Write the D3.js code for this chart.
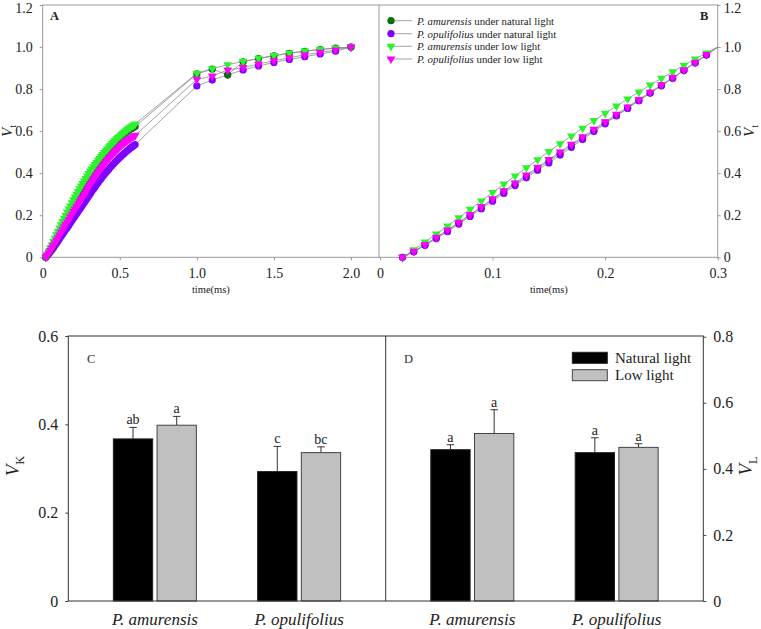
<!DOCTYPE html>
<html><head><meta charset="utf-8">
<script src="https://cdn.jsdelivr.net/npm/d3@7"></script>
<style>body{margin:0;background:#fff}svg{display:block}</style>
</head><body>
<script>
// ---------------- DATA ----------------
const timesA = [0.02,0.03,0.04,0.05,0.06,0.07,0.08,0.09,0.10,0.11,0.12,0.13,0.14,0.15,0.16,0.17,0.18,0.19,0.20,0.21,0.22,0.23,0.24,0.25,0.26,0.27,0.28,0.29,0.30,
  0.31,0.32,0.33,0.34,0.35,0.36,0.37,0.38,0.39,0.40,0.41,0.42,0.43,0.44,0.45,0.46,0.47,0.48,0.49,0.50,0.51,0.52,0.53,0.54,0.55,0.56,0.57,0.58,0.59,0.60,
  1.0,1.1,1.2,1.3,1.4,1.5,1.6,1.7,1.8,1.9,2.0];
const amurNaturalA = [0,0.010,0.022,0.034,0.047,0.060,0.073,0.087,0.101,0.114,0.128,0.141,0.155,0.168,0.182,0.195,0.208,0.221,0.235,0.248,0.261,0.274,0.287,0.299,0.313,0.326,0.339,0.353,0.367,
  0.380,0.393,0.406,0.418,0.430,0.442,0.453,0.464,0.475,0.485,0.495,0.505,0.514,0.523,0.532,0.540,0.548,0.556,0.563,0.570,0.577,0.583,0.589,0.595,0.600,0.605,0.610,0.614,0.618,0.622,
  0.872,0.895,0.868,0.930,0.945,0.958,0.970,0.980,0.988,0.995,1.0];
const opulNaturalA = [0,0.008,0.017,0.026,0.036,0.046,0.057,0.067,0.078,0.089,0.100,0.111,0.121,0.132,0.142,0.153,0.164,0.175,0.186,0.197,0.207,0.218,0.229,0.239,0.250,0.261,0.271,0.282,0.293,
  0.304,0.315,0.325,0.336,0.346,0.356,0.366,0.375,0.385,0.394,0.403,0.412,0.420,0.429,0.437,0.445,0.453,0.460,0.468,0.475,0.482,0.489,0.495,0.502,0.508,0.514,0.520,0.525,0.531,0.536,
  0.815,0.843,0.868,0.891,0.910,0.927,0.941,0.954,0.967,0.980,1.0];
const amurLowA = [0,0.014,0.029,0.044,0.059,0.075,0.091,0.107,0.123,0.139,0.154,0.170,0.185,0.200,0.215,0.230,0.244,0.259,0.273,0.286,0.300,0.313,0.326,0.339,0.351,0.363,0.375,0.387,0.398,
  0.409,0.420,0.430,0.441,0.451,0.461,0.470,0.480,0.489,0.498,0.507,0.515,0.524,0.532,0.540,0.548,0.555,0.563,0.570,0.577,0.583,0.590,0.596,0.602,0.608,0.614,0.619,0.624,0.629,0.634,
  0.875,0.897,0.916,0.932,0.946,0.960,0.971,0.981,0.989,0.995,1.0];
const opulLowA = [0,0.009,0.020,0.032,0.044,0.056,0.068,0.081,0.093,0.106,0.119,0.131,0.144,0.156,0.168,0.180,0.193,0.205,0.217,0.228,0.240,0.252,0.264,0.276,0.287,0.299,0.311,0.324,0.336,
  0.348,0.360,0.371,0.382,0.393,0.404,0.414,0.424,0.434,0.444,0.453,0.462,0.471,0.479,0.488,0.496,0.503,0.511,0.518,0.525,0.532,0.538,0.544,0.550,0.556,0.561,0.566,0.571,0.575,0.580,
  0.846,0.862,0.891,0.902,0.919,0.935,0.949,0.963,0.975,0.986,1.0];

const timesB = [0.02,0.03,0.04,0.05,0.06,0.07,0.08,0.09,0.10,0.11,0.12,0.13,0.14,0.15,0.16,0.17,0.18,0.19,0.20,0.21,0.22,0.23,0.24,0.25,0.26,0.27,0.28,0.29,0.30];
const amurNaturalB = [0,0.027,0.059,0.093,0.128,0.164,0.200,0.237,0.274,0.311,0.348,0.385,0.422,0.458,0.495,0.531,0.567,0.603,0.639,0.675,0.710,0.746,0.781,0.816,0.852,0.888,0.925,0.962,1.0];
const opulNaturalB = [0,0.026,0.057,0.089,0.122,0.158,0.194,0.230,0.267,0.304,0.341,0.378,0.414,0.449,0.486,0.523,0.560,0.598,0.635,0.672,0.708,0.745,0.781,0.817,0.853,0.890,0.926,0.962,1.0];
const amurLowB = [0,0.036,0.073,0.111,0.149,0.188,0.228,0.268,0.308,0.348,0.387,0.426,0.464,0.503,0.540,0.577,0.614,0.650,0.685,0.719,0.753,0.786,0.819,0.851,0.882,0.913,0.943,0.972,1.0];
const opulLowB = [0,0.028,0.061,0.095,0.130,0.166,0.203,0.240,0.278,0.316,0.353,0.391,0.428,0.465,0.501,0.537,0.573,0.609,0.645,0.680,0.715,0.750,0.785,0.820,0.855,0.890,0.927,0.964,1.0];

const seriesNames = ["P. amurensis|under natural light","P. opulifolius|under natural light","P. amurensis|under low light","P. opulifolius|under low light"];

const species = ["P. amurensis","P. opulifolius"];
const treatments = ["Natural light","Low light"];
const vkNatural = [0.367,0.293], vkNaturalErr = [0.026,0.057];
const vkLow = [0.398,0.336], vkLowErr = [0.020,0.013];
const vkLetters = [["ab","a"],["c","bc"]];
const vlNatural = [0.458,0.449], vlNaturalErr = [0.015,0.045];
const vlLow = [0.507,0.465], vlLowErr = [0.072,0.011];
const vlLetters = [["a","a"],["a","a"]];

const ticksTopY = [0,0.2,0.4,0.6,0.8,1.0,1.2];
const ticksAX = [0,0.5,1.0,1.5,2.0];
const ticksBX = [0,0.1,0.2,0.3];
const ticksC = [0,0.2,0.4,0.6];
const ticksD = [0,0.2,0.4,0.6,0.8];

// ---------------- STYLE ----------------
const FONT = '"Liberation Serif","Times New Roman",serif';
const cDark = "#0a6e0a", cPurple = "#8000ff", cGreen = "#2ef22e", cMag = "#ff00ff";
const gray = "#9a9a9a";
const W = 761, H = 629;
const svg = d3.select("body").append("svg").attr("width", W).attr("height", H).style("font-family", FONT);
svg.append("rect").attr("width", W).attr("height", H).attr("fill", "#fff");

const fmt = d => d === 0 ? "0" : d3.format(".1f")(d);
function styleAx(g, color, size, topDy) {
  g.select(".domain").remove();
  g.attr("font-family", null).attr("font-size", null);
  g.selectAll(".tick line").attr("stroke", color);
  const t = g.selectAll(".tick text").attr("fill", "#222").style("font-size", size + "px").style("font-family", FONT);
  if (topDy) t.filter(d => d === 1.2).attr("dy", topDy);
}

// ---------------- TOP PANELS ----------------
const tTop = 5, tBot = 257.3, aL = 42.7, mid = 379, bR = 717.7;
const xA = d3.scaleLinear().domain([0, 2]).range([aL, 351]);
const xB = d3.scaleLinear().domain([0, 0.3]).range([380, bR]);
const yT = d3.scaleLinear().domain([0, 1.2]).range([tBot, tTop]);

// axes
svg.append("g").attr("transform", `translate(${aL},0)`).call(d3.axisLeft(yT).tickValues(ticksTopY).tickFormat(fmt).tickSize(3).tickPadding(7)).call(g => styleAx(g, gray, 14, "0.55em"));
svg.append("g").attr("transform", `translate(${bR},0)`).call(d3.axisRight(yT).tickValues(ticksTopY).tickFormat(fmt).tickSize(3).tickPadding(3)).call(g => styleAx(g, gray, 14, "0.55em"));
svg.append("g").attr("transform", `translate(0,${tBot})`).call(d3.axisBottom(xA).tickValues(ticksAX).tickFormat(fmt).tickSize(3).tickPadding(8)).call(g => styleAx(g, gray, 14));
svg.append("g").attr("transform", `translate(0,${tBot})`).call(d3.axisBottom(xB).tickValues(ticksBX).tickFormat(fmt).tickSize(3).tickPadding(8)).call(g => styleAx(g, gray, 14));
// frame
const fr = svg.append("g").attr("stroke", gray).attr("stroke-width", 1).attr("fill", "none");
fr.append("rect").attr("x", aL).attr("y", tTop).attr("width", bR - aL).attr("height", tBot - tTop);
fr.append("line").attr("x1", mid).attr("x2", mid).attr("y1", tTop).attr("y2", tBot);

// series
const colorsByName = [cDark, cPurple, cGreen, cMag];
const shapes = ["circle", "circle", "tri", "tri"];
const seriesA = [amurNaturalA, opulNaturalA, amurLowA, opulLowA];
const seriesB = [amurNaturalB, opulNaturalB, amurLowB, opulLowB];

function drawSeries(times, series, xs, order, maxT) {
  const line = d3.line().x(d => xs(d[0])).y(d => yT(d[1]));
  series.forEach((vals, i) => {
    const pts = times.map((t, j) => [t, vals[j]]).filter(p => p[1] !== undefined);
    svg.append("path").attr("d", line(pts)).attr("fill", "none").attr("stroke", "#8c8c8c").attr("stroke-width", 0.8);
  });
  order.forEach(i => {
    const vals = series[i];
    const pts = times.map((t, j) => [t, vals[j]]).filter(p => p[1] !== undefined && p[0] <= maxT);
    const g = svg.append("g");
    if (shapes[i] === "circle") {
      g.selectAll("circle").data(pts).join("circle")
        .attr("cx", d => xs(d[0])).attr("cy", d => yT(d[1])).attr("r", 3.6).attr("fill", colorsByName[i]);
    } else {
      g.selectAll("path").data(pts).join("path")
        .attr("d", d3.symbol(d3.symbolTriangle, 34))
        .attr("transform", d => `translate(${xs(d[0])},${yT(d[1])}) rotate(180)`).attr("fill", colorsByName[i]);
    }
  });
}
drawSeries(timesA, seriesA, xA, [1, 0, 2, 3], 3);
drawSeries(timesB, seriesB, xB, [0, 1, 2, 3], 0.295);

// labels
svg.append("text").attr("x", 50).attr("y", 20).attr("font-size", 12.5).attr("font-weight", "bold").attr("fill", "#222").text("A");
svg.append("text").attr("x", 700).attr("y", 20).attr("font-size", 12.5).attr("font-weight", "bold").attr("fill", "#222").text("B");
svg.append("text").attr("x", (aL + mid) / 2).attr("y", 293).attr("text-anchor", "middle").attr("font-size", 10.5).attr("fill", "#222").text("time(ms)");
svg.append("text").attr("x", (380 + bR) / 2).attr("y", 293).attr("text-anchor", "middle").attr("font-size", 10.5).attr("fill", "#222").text("time(ms)");

function vLabel(x, y, sub, size) {
  const t = svg.append("text").attr("transform", `translate(${x},${y}) rotate(-90)`).attr("text-anchor", "middle").attr("fill", "#222").attr("font-size", size);
  t.append("tspan").attr("font-style", "italic").text("V");
  t.append("tspan").attr("font-size", size * 0.65).attr("dy", size * 0.25).text(sub);
}
vLabel(12, 131, "t", 15);
vLabel(754, 131, "t", 15);

// legend B
const legY = [20.7, 33.7, 46.3, 59];
seriesNames.forEach((nm, i) => {
  const y = legY[i];
  svg.append("line").attr("x1", 387).attr("x2", 412).attr("y1", y).attr("y2", y).attr("stroke", "#8c8c8c").attr("stroke-width", 0.8);
  if (shapes[i] === "circle") svg.append("circle").attr("cx", 391).attr("cy", y).attr("r", 3.6).attr("fill", colorsByName[i]);
  else svg.append("path").attr("d", d3.symbol(d3.symbolTriangle, 34)).attr("transform", `translate(391,${y}) rotate(180)`).attr("fill", colorsByName[i]);
  const [sp, rest] = nm.split("|");
  const t = svg.append("text").attr("x", 417).attr("y", y + 3.8).attr("font-size", 10.8).attr("fill", "#222");
  t.append("tspan").attr("font-style", "italic").text(sp);
  t.append("tspan").text(" " + rest);
});

// ---------------- BOTTOM PANELS ----------------
const bTop = 336, bBot = 601, cL = 68.3, cMid = 385.7, dR = 703.3;
const yC = d3.scaleLinear().domain([0, 0.6]).range([bBot, bTop]);
const yD = d3.scaleLinear().domain([0, 0.8]).range([bBot, 336.7]);
const xC = d3.scalePoint().domain(species).range([cL, cMid]).padding(0.6);
const xD = d3.scalePoint().domain(species).range([cMid, dR]).padding(0.6);
const sub = d3.scaleBand().domain(treatments).range([-41.5, 41.5]).paddingInner(0.1);
const fills = ["#000000", "#c0c0c0"];
const strokes = ["#222", "#444"];

svg.append("g").attr("transform", `translate(${cL},0)`).call(d3.axisLeft(yC).tickValues(ticksC).tickFormat(fmt).tickSize(3).tickPadding(7)).call(g => styleAx(g, "#444", 16));
svg.append("g").attr("transform", `translate(${dR},0)`).call(d3.axisRight(yD).tickValues(ticksD).tickFormat(fmt).tickSize(3).tickPadding(7)).call(g => styleAx(g, "#444", 16));

function barPanel(xs, ys, natV, natE, lowV, lowE, letters) {
  species.forEach((sp, i) => {
    [[natV[i], natE[i]], [lowV[i], lowE[i]]].forEach(([v, e], k) => {
      const x0 = xs(sp) + sub(treatments[k]);
      const bw = sub.bandwidth();
      const cx = x0 + bw / 2;
      svg.append("line").attr("x1", cx).attr("x2", cx).attr("y1", ys(v)).attr("y2", ys(v + e)).attr("stroke", "#333").attr("stroke-width", 1);
      svg.append("line").attr("x1", cx - 3.8).attr("x2", cx + 3.8).attr("y1", ys(v + e)).attr("y2", ys(v + e)).attr("stroke", "#333").attr("stroke-width", 1);
      svg.append("rect").attr("x", x0).attr("y", ys(v)).attr("width", bw).attr("height", ys(0) - ys(v))
        .attr("fill", fills[k]).attr("stroke", strokes[k]).attr("stroke-width", 1);
      svg.append("text").attr("x", cx).attr("y", ys(v + e) - 3).attr("text-anchor", "middle").attr("font-size", 14).attr("fill", "#222").text(letters[i][k]);
    });
    svg.append("text").attr("x", xs(sp)).attr("y", 625).attr("text-anchor", "middle").attr("font-size", 17).attr("font-style", "italic").attr("fill", "#222").text(sp);
  });
}
barPanel(xC, yC, vkNatural, vkNaturalErr, vkLow, vkLowErr, vkLetters);
barPanel(xD, yD, vlNatural, vlNaturalErr, vlLow, vlLowErr, vlLetters);

const fb = svg.append("g").attr("stroke", "#333").attr("stroke-width", 1).attr("fill", "none");
fb.append("rect").attr("x", cL).attr("y", bTop).attr("width", dR - cL).attr("height", bBot - bTop);
fb.append("line").attr("x1", cMid).attr("x2", cMid).attr("y1", bTop).attr("y2", bBot);

svg.append("text").attr("x", 87).attr("y", 363).attr("font-size", 12.5).attr("fill", "#333").text("C");
svg.append("text").attr("x", 404).attr("y", 363).attr("font-size", 12.5).attr("fill", "#333").text("D");
vLabel(19, 466, "K", 19);
vLabel(752, 466, "L", 19);

// legend D
treatments.forEach((tr, k) => {
  const y = [352.3, 369.7][k];
  svg.append("rect").attr("x", 572.3).attr("y", y).attr("width", 35).attr("height", 11).attr("fill", fills[k]).attr("stroke", strokes[k]).attr("stroke-width", 1);
  svg.append("text").attr("x", 615).attr("y", y + 10.5).attr("font-size", 15).attr("fill", "#222").text(tr);
});
</script>
</body></html>
